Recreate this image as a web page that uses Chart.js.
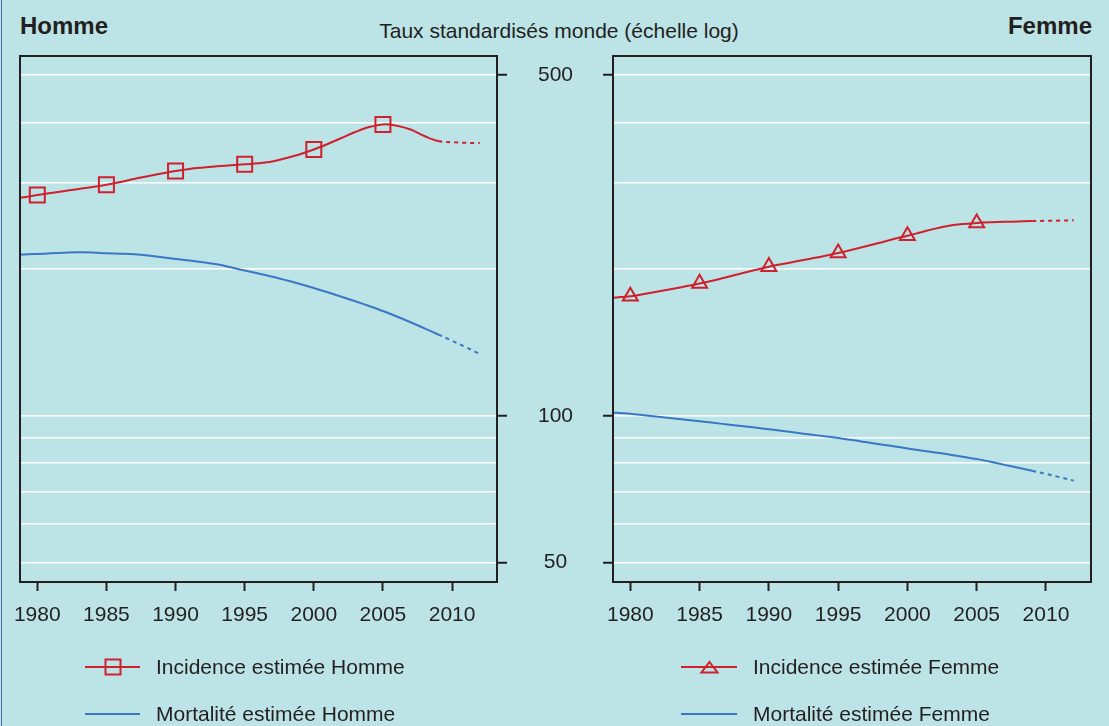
<!DOCTYPE html>
<html><head><meta charset="utf-8">
<script src="https://cdn.jsdelivr.net/npm/chart.js@4.4.1/dist/chart.umd.min.js"></script>
<style>
html,body{margin:0;padding:0;}
body{width:1109px;height:726px;background:#bce3e6;position:relative;overflow:hidden;font-family:'Liberation Sans',Arial,sans-serif;color:#231f20;}
.edge{position:absolute;left:1px;top:0;width:1px;height:726px;background:#5468bd;}
canvas{position:absolute;top:0;}
#cH{left:0;}
#cF{left:580px;}
.t{position:absolute;white-space:nowrap;line-height:1;}
.b{font-weight:bold;font-size:24px;line-height:24px;}
.leg{position:absolute;font-size:21px;line-height:21px;white-space:nowrap;}
svg{position:absolute;overflow:visible;}
</style></head>
<body>
<div class="edge"></div>
<div class="t b" style="left:20px;top:14px;">Homme</div>
<div class="t b" style="right:17px;top:14px;">Femme</div>
<div class="t" style="left:0;width:1118px;text-align:center;top:19.5px;font-size:21px;line-height:21px;">Taux standardisés monde (échelle log)</div>
<canvas id="cH" width="600" height="640"></canvas>
<canvas id="cF" width="529" height="640"></canvas>

<svg style="left:0;top:0;" width="1109" height="726">
  <line x1="85" y1="667" x2="140" y2="667" stroke="#cf202e" stroke-width="2"/>
  <rect x="105.5" y="659.5" width="15" height="15" fill="none" stroke="#cf202e" stroke-width="2"/>
  <line x1="85" y1="714" x2="140" y2="714" stroke="#3a78c4" stroke-width="2"/>
  <line x1="681" y1="667" x2="737" y2="667" stroke="#cf202e" stroke-width="2"/>
  <polygon points="709.5,662 717.5,672.5 701.5,672.5" fill="none" stroke="#cf202e" stroke-width="2"/>
  <line x1="681" y1="714" x2="737" y2="714" stroke="#3a78c4" stroke-width="2"/>
</svg>
<div class="leg" style="left:156px;top:656px;">Incidence estimée Homme</div>
<div class="leg" style="left:156px;top:703px;">Mortalité estimée Homme</div>
<div class="leg" style="left:753px;top:656px;">Incidence estimée Femme</div>
<div class="leg" style="left:753px;top:703px;">Mortalité estimée Femme</div>

<script>
const years = [1978,1979,1980,1981,1982,1983,1984,1985,1986,1987,1988,1989,1990,1991,1992,1993,1994,1995,1996,1997,1998,1999,2000,2001,2002,2003,2004,2005,2006,2007,2008,2009,2010,2011,2012];
const incidenceHomme = [278,280.6,283.7,286.3,289,292,294.6,297.8,301.6,306,310,314,317.8,320.8,323,325,326.4,328,329.5,332.3,337.8,344,351.7,361,371.3,382,391,396,393.5,386.5,374.9,366,364,363,362.5];
const mortaliteHomme = [213.8,214.1,214.7,215.4,216,216.4,216.2,215.5,215,214.4,213.2,211.5,209.7,208.2,206.4,204.6,201.6,198.6,195.8,192.9,189.7,186.4,182.9,179.2,175.4,171.7,167.9,164,159.8,155.5,151.1,146.8,142.5,138.2,133.9];
const incidenceFemme = [174,174.9,175.8,177.7,179.8,182,184.3,186.8,189.5,192.6,195.8,199,202.2,204.8,207.4,210,212.7,215.7,219,222.6,226.4,230.4,234,238,242,245.4,247.4,248.5,249.3,249.9,250.4,250.9,251.1,251.4,251.7];
const mortaliteFemme = [102.1,101.4,100.9,100.2,99.5,98.8,98.1,97.4,96.7,96,95.3,94.6,93.8,93.1,92.3,91.5,90.8,90,89.2,88.3,87.4,86.6,85.7,84.9,84.1,83.3,82.4,81.5,80.5,79.3,78.2,77.1,76,74.8,73.6];
const markerYears = [1980,1985,1990,1995,2000,2005];
const xTickYears = [1980,1985,1990,1995,2000,2005,2010];
const yGridValues = [50,60,70,80,90,100,200,300,400,500];
const yTickLabels = [50,100,500];
const projectionStart = 2009;

const RED = '#cf202e', BLUE = '#3a78c4', DARK = '#231f20';
const FONT = {family: "'Liberation Sans', Arial, sans-serif", size: 21};

function series(vals){ return years.map((x,i)=>({x:x, y:vals[i]})); }

function dataset(label, vals, color, marker, radius){
  return {
    label: label, data: series(vals), borderColor: color, borderWidth: 2,
    tension: 0.35, fill: false,
    pointStyle: marker || 'circle',
    pointRadius: ctx => (marker && markerYears.includes(years[ctx.dataIndex])) ? radius : 0,
    pointBorderColor: color, pointBackgroundColor: 'rgba(0,0,0,0)', pointBorderWidth: 2,
    segment: { borderDash: ctx => years[ctx.p0DataIndex] >= projectionStart ? [4,4] : undefined }
  };
}

const framePlugin = {
  id: 'frame',
  afterDraw(chart){
    const a = chart.chartArea, c = chart.ctx;
    c.save(); c.strokeStyle = DARK; c.lineWidth = 2;
    c.strokeRect(a.left, a.top, a.right - a.left, a.bottom - a.top);
    c.restore();
  }
};

function makeChart(id, datasets, yPos, showLabels, padding, yWidth){
  return new Chart(document.getElementById(id), {
    type: 'line',
    data: { datasets: datasets },
    plugins: [framePlugin],
    options: {
      responsive: false, animation: false, devicePixelRatio: 1, events: [],
      layout: { padding: padding },
      plugins: { legend: {display:false}, tooltip: {enabled:false} },
      scales: {
        x: {
          type: 'linear', min: 1978.75, max: 2013.25,
          afterBuildTicks: s => { s.ticks = xTickYears.map(v => ({value: v})); },
          afterFit: s => { s.height = 58; },
          ticks: { callback: v => String(v), font: FONT, color: DARK, padding: 12, maxRotation: 0, autoSkip: false },
          grid: { drawOnChartArea: false, drawTicks: true, tickLength: 9, tickColor: DARK, tickWidth: 2 },
          border: { display: false }
        },
        y: {
          type: 'logarithmic', position: yPos, min: 45.6, max: 547,
          afterBuildTicks: s => { s.ticks = yGridValues.map(v => ({value: v})); },
          afterFit: s => { s.width = yWidth; },
          ticks: {
            callback: v => (showLabels && yTickLabels.includes(v)) ? String(v) : '',
            font: FONT, color: DARK, crossAlign: 'center', padding: 31, autoSkip: false
          },
          grid: {
            color: '#ffffff', lineWidth: 1.5, tickLength: 10, tickWidth: 2,
            tickColor: ctx => (ctx.tick && yTickLabels.includes(ctx.tick.value)) ? DARK : 'rgba(0,0,0,0)'
          },
          border: { display: false }
        }
      }
    }
  });
}

makeChart('cH', [
  dataset('Incidence estimée Homme', incidenceHomme, RED, 'rect', 10.6),
  dataset('Mortalité estimée Homme', mortaliteHomme, BLUE, null, 0)
], 'right', true, {left:20, top:56, right:0, bottom:0}, 103);

makeChart('cF', [
  dataset('Incidence estimée Femme', incidenceFemme, RED, 'triangle', 8.6),
  dataset('Mortalité estimée Femme', mortaliteFemme, BLUE, null, 0)
], 'left', false, {left:0, top:56, right:18, bottom:0}, 33);
</script>
</body></html>
